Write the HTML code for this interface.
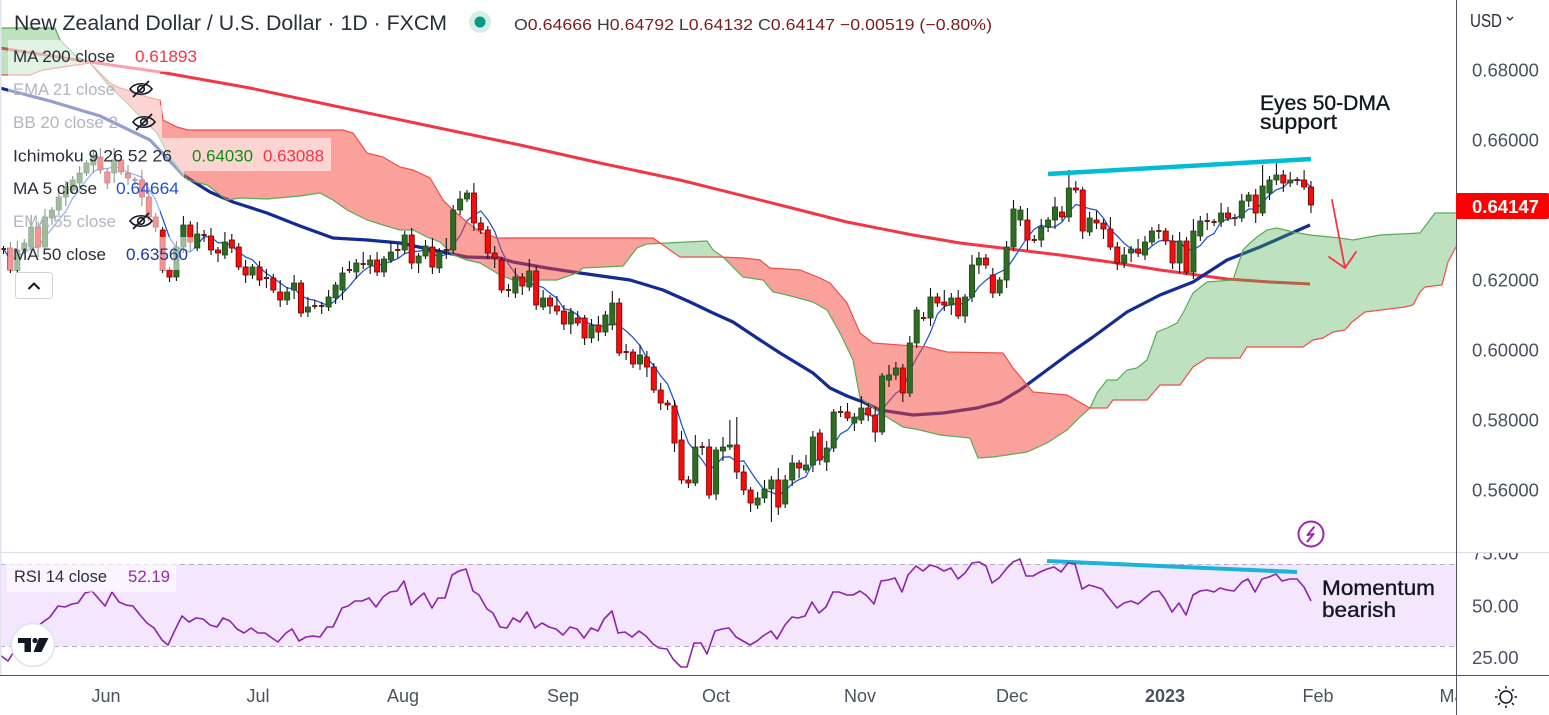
<!DOCTYPE html>
<html><head><meta charset="utf-8">
<style>
html,body{margin:0;padding:0;background:#fff;overflow:hidden;}
svg{display:block;}
text{font-family:"Liberation Sans",Arial,sans-serif;}
</style></head>
<body>
<svg id="s" xmlns="http://www.w3.org/2000/svg" width="1549" height="715" viewBox="0 0 1549 715">
<defs>
<clipPath id="cm"><rect x="0" y="0" width="1456" height="552"/></clipPath>
<clipPath id="cr"><rect x="0" y="553" width="1456" height="122"/></clipPath>
<clipPath id="below"><polygon id="belowP" points="0,0"/></clipPath>
<clipPath id="above"><polygon id="aboveP" points="0,0"/></clipPath>
<clipPath id="axr"><rect x="1457" y="553" width="92" height="122"/></clipPath>
<clipPath id="tax"><rect x="0" y="676" width="1456" height="40"/></clipPath>
</defs>
<rect width="1549" height="715" fill="#fff"/>

<!-- MAIN PANE -->
<g clip-path="url(#cm)">
  <polyline fill="none" stroke="#f23645" stroke-width="3" stroke-linejoin="round" points="0,48 45,55 90,62 160,72 250,88 330,105 420,124 520,145 600,163 680,180 780,205 847,222 913,235 960,243 1010,249 1060,255 1110,262 1160,270 1227,279 1270,282 1310,284"/>
  <polyline fill="none" stroke="#142a94" stroke-width="3.2" stroke-linejoin="round" points="0,88 50,101 100,116 150,140 183,175 210,192 233,202 267,213 300,226 333,238 367,240 400,243 433,250 467,257 500,258 513,262 547,268 580,273 630,280 663,290 690,302 713,313 733,322 757,338 780,353 813,373 830,388 847,396 863,402 880,410 913,415 943,413 977,408 1000,402 1020,390 1047,370 1070,353 1093,337 1127,312 1160,295 1193,282 1227,260 1260,247 1285,236 1310,225"/>
  <polyline id="ma5" fill="none" stroke="#2457d6" stroke-width="1.3" stroke-linejoin="round" points="0,0"/>
  <polygon id="cloudR" clip-path="url(#below)" fill="rgba(244,67,54,0.5)" points="0,0"/>
  <polygon id="cloudG" clip-path="url(#above)" fill="rgba(76,175,80,0.36)" points="0,0"/>
  <polyline id="spanA" fill="none" stroke="#5aaa5a" stroke-width="1.2" points="0,0"/>
  <polyline id="spanB" fill="none" stroke="#f04e4e" stroke-width="1.2" points="0,0"/>
  <g id="candles"></g>
  <line x1="1048" y1="174" x2="1311" y2="159" stroke="#00bcd4" stroke-width="4.5"/>
  <g stroke="#f23645" stroke-width="1.8" fill="none" stroke-linecap="round">
    <line x1="1332" y1="200" x2="1345" y2="268"/>
    <polyline points="1329,257 1345,268 1356,252"/>
  </g>
  <circle cx="1311" cy="534" r="12.5" fill="#fff" stroke="#9c27b0" stroke-width="2"/>
  <path d="M1314.5,526.5 L1307.5,535 L1313.5,534 L1307,542" fill="none" stroke="#9c27b0" stroke-width="2" stroke-linejoin="round"/>
</g>

<!-- legend rows -->
<g fill="rgba(255,255,255,0.55)">
  <rect x="8" y="40" width="196" height="32"/>
  <rect x="8" y="72" width="152" height="33"/>
  <rect x="8" y="105" width="154" height="33"/>
  <rect x="8" y="138" width="323" height="33"/>
  <rect x="8" y="171" width="176" height="33"/>
  <rect x="8" y="204" width="152" height="33"/>
  <rect x="8" y="237" width="186" height="33"/>
</g>
<text x="14" y="30" font-size="21" fill="#2a2e39" textLength="433" lengthAdjust="spacingAndGlyphs">New Zealand Dollar / U.S. Dollar · 1D · FXCM</text>
<circle cx="480" cy="22" r="11" fill="#d4eee8"/>
<circle cx="480" cy="22" r="5.5" fill="#089981"/>
<text x="514" y="30" font-size="16" fill="#3a3d47" textLength="478" lengthAdjust="spacingAndGlyphs">O<tspan fill="#7b1c1c">0.64666</tspan> H<tspan fill="#7b1c1c">0.64792</tspan> L<tspan fill="#7b1c1c">0.64132</tspan> C<tspan fill="#7b1c1c">0.64147 −0.00519 (−0.80%)</tspan></text>

<g font-size="17">
  <text x="13" y="62" fill="#2a2e39" textLength="102" lengthAdjust="spacingAndGlyphs">MA 200 close</text>
  <text x="135" y="62" fill="#f23645" textLength="62" lengthAdjust="spacingAndGlyphs">0.61893</text>
  <text x="13" y="95" fill="#b2b5be" textLength="102" lengthAdjust="spacingAndGlyphs">EMA 21 close</text>
  <text x="13" y="128" fill="#b2b5be" textLength="105" lengthAdjust="spacingAndGlyphs">BB 20 close 2</text>
  <text x="13" y="161.5" fill="#2a2e39" textLength="159" lengthAdjust="spacingAndGlyphs">Ichimoku 9 26 52 26</text>
  <text x="192" y="161.5" fill="#128a12" textLength="61" lengthAdjust="spacingAndGlyphs">0.64030</text>
  <text x="263" y="161.5" fill="#f23645" textLength="61" lengthAdjust="spacingAndGlyphs">0.63088</text>
  <text x="13" y="194" fill="#2a2e39" textLength="84" lengthAdjust="spacingAndGlyphs">MA 5 close</text>
  <text x="116" y="194" fill="#2150d0" textLength="63" lengthAdjust="spacingAndGlyphs">0.64664</text>
  <text x="13" y="227" fill="#b2b5be" textLength="103" lengthAdjust="spacingAndGlyphs">EMA 55 close</text>
  <text x="13" y="260" fill="#2a2e39" textLength="93" lengthAdjust="spacingAndGlyphs">MA 50 close</text>
  <text x="126" y="260" fill="#1b3a9a" textLength="62" lengthAdjust="spacingAndGlyphs">0.63560</text>
</g>
<g stroke="#131722" fill="none" stroke-width="1.6">
  <g transform="translate(141,89)"><path d="M-11,0 C-6,-7 6,-7 11,0 C6,7 -6,7 -11,0Z"/><circle r="3.3"/><line x1="-8" y1="8" x2="8" y2="-8"/></g>
  <g transform="translate(144,122)"><path d="M-11,0 C-6,-7 6,-7 11,0 C6,7 -6,7 -11,0Z"/><circle r="3.3"/><line x1="-8" y1="8" x2="8" y2="-8"/></g>
  <g transform="translate(141,221)"><path d="M-11,0 C-6,-7 6,-7 11,0 C6,7 -6,7 -11,0Z"/><circle r="3.3"/><line x1="-8" y1="8" x2="8" y2="-8"/></g>
</g>
<rect x="15.5" y="272.5" width="37" height="26" rx="3" fill="#fff" stroke="#d1d4dc"/>
<polyline points="28.5,289 34,283.5 39.5,289" fill="none" stroke="#131722" stroke-width="2"/>

<!-- annotations -->
<g fill="#131722" stroke="#131722" stroke-width="0.35">
<text x="1260" y="110" font-size="21" textLength="130" lengthAdjust="spacingAndGlyphs">Eyes 50-DMA</text>
<text x="1260" y="129" font-size="21" textLength="77" lengthAdjust="spacingAndGlyphs">support</text>
</g>

<!-- RSI PANE -->
<g clip-path="url(#cr)">
  <rect x="0" y="564" width="1456" height="82" fill="#f3e6fd"/>
  <line x1="0" y1="564.5" x2="1456" y2="564.5" stroke="#b9abc8" stroke-width="1" stroke-dasharray="5,4"/>
  <line x1="0" y1="646.5" x2="1456" y2="646.5" stroke="#b9abc8" stroke-width="1" stroke-dasharray="5,4"/>
  <line x1="1047" y1="561" x2="1297" y2="572" stroke="#1cb3d8" stroke-width="4"/>
  <polyline fill="none" stroke="#8e24aa" stroke-width="1.6" stroke-linejoin="round" points="0,655 8,661 13,653 20,645 28,635 36,628 43,622 50,617 58,606 65,607 72,604 78,603 85,593 92,591 98,598 105,606 112,592 119,602 126,605 133,606 140,615 147,623 154,628 162,640 168,645 175,630 182,616 189,622 196,618 203,619 210,625 217,627 223,618 230,621 237,629 244,633 251,628 258,633 265,633 272,638 278,642 286,633 292,629 299,641 306,637 313,636 320,637 327,627 333,627 342,608 348,606 355,601 362,601 369,598 376,607 383,597 390,592 397,591 404,581 411,605 417,599 424,593 432,608 438,598 445,598 452,575 459,571 466,569 473,591 479,595 487,609 493,613 500,627 507,628 513,618 520,622 527,612 535,628 542,623 549,627 556,629 563,635 570,627 577,629 584,638 591,628 598,631 604,619 612,611 618,633 625,632 632,637 639,631 646,636 653,644 659,648 667,649 673,659 681,667 687,667 694,643 701,643 707,654 715,631 722,629 729,628 736,637 743,641 750,645 757,641 763,636 771,631 777,639 785,625 792,617 798,618 805,616 812,602 819,613 826,607 833,592 839,592 847,595 853,595 860,591 867,596 874,604 881,581 888,580 895,578 902,592 908,575 916,566 923,571 930,565 937,567 944,571 951,568 958,579 965,573 972,563 979,562 986,566 992,583 999,578 1007,568 1013,562 1020,559 1026,576 1033,576 1040,572 1047,569 1054,567 1061,572 1068,563 1075,564 1082,589 1089,585 1096,587 1102,589 1109,598 1117,608 1124,603 1131,601 1138,604 1145,598 1152,592 1159,591 1165,599 1172,612 1179,603 1186,615 1193,595 1200,591 1207,590 1214,592 1220,588 1227,590 1234,591 1242,582 1248,579 1255,592 1262,579 1269,577 1276,574 1282,581 1290,579 1297,579 1304,587 1311,601"/>
  <rect x="7" y="564" width="169" height="28" fill="rgba(255,255,255,0.6)"/>
  <circle cx="33" cy="645" r="21.5" fill="#fff" stroke="#e0e3eb" stroke-width="1.5"/>
  <g fill="#131722">
    <rect x="18" y="638" width="13" height="5"/>
    <rect x="24.5" y="638" width="6.5" height="14"/>
    <circle cx="35" cy="640.5" r="2.6"/>
    <polygon points="39,638 48.5,638 41.5,652 33.5,652"/>
  </g>
</g>
<text x="14" y="582" font-size="17" fill="#2a2e39" textLength="93" lengthAdjust="spacingAndGlyphs">RSI 14 close</text>
<text x="128" y="582" font-size="17" fill="#9c27b0" textLength="42" lengthAdjust="spacingAndGlyphs">52.19</text>
<g fill="#131722" stroke="#131722" stroke-width="0.35">
<text x="1322" y="595" font-size="21" textLength="113" lengthAdjust="spacingAndGlyphs">Momentum</text>
<text x="1322" y="617" font-size="21" textLength="74" lengthAdjust="spacingAndGlyphs">bearish</text>
</g>

<!-- frame lines -->
<line x1="0.75" y1="0" x2="0.75" y2="675" stroke="#e3e5ee" stroke-width="1.5"/>
<line x1="0" y1="552.5" x2="1549" y2="552.5" stroke="#dcdce8" stroke-width="1"/>
<line x1="0" y1="675.5" x2="1549" y2="675.5" stroke="#50535e" stroke-width="1"/>
<line x1="1456.5" y1="0" x2="1456.5" y2="715" stroke="#50535e" stroke-width="1"/>

<!-- right axis -->
<text x="1470" y="27" font-size="18" fill="#2a2e39" textLength="32" lengthAdjust="spacingAndGlyphs">USD</text>
<polyline points="1507,17 1510,20 1513,17" fill="none" stroke="#2a2e39" stroke-width="1.3"/>
<g font-size="18" fill="#4c525e">
  <text x="1472" y="76.7" textLength="67" lengthAdjust="spacingAndGlyphs">0.68000</text>
  <text x="1472" y="146.7" textLength="67" lengthAdjust="spacingAndGlyphs">0.66000</text>
  <text x="1472" y="286.7" textLength="67" lengthAdjust="spacingAndGlyphs">0.62000</text>
  <text x="1472" y="356.7" textLength="67" lengthAdjust="spacingAndGlyphs">0.60000</text>
  <text x="1472" y="426.7" textLength="67" lengthAdjust="spacingAndGlyphs">0.58000</text>
  <text x="1472" y="496.7" textLength="67" lengthAdjust="spacingAndGlyphs">0.56000</text>
  <text x="1472" y="559.7" textLength="46.6" lengthAdjust="spacingAndGlyphs" clip-path="url(#axr)">75.00</text>
  <text x="1472" y="612.4" textLength="46.6" lengthAdjust="spacingAndGlyphs">50.00</text>
  <text x="1472" y="664" textLength="46.6" lengthAdjust="spacingAndGlyphs">25.00</text>
</g>
<rect x="1456" y="193" width="93" height="26" rx="2" fill="#ff0000"/>
<text x="1472" y="213" font-size="18" font-weight="bold" fill="#fff" textLength="67" lengthAdjust="spacingAndGlyphs">0.64147</text>

<!-- time axis -->
<g font-size="18" fill="#4c525e" text-anchor="middle">
  <text x="106" y="702">Jun</text>
  <text x="258" y="702">Jul</text>
  <text x="403" y="702">Aug</text>
  <text x="563" y="702">Sep</text>
  <text x="716" y="702">Oct</text>
  <text x="860" y="702">Nov</text>
  <text x="1012" y="702">Dec</text>
  <text x="1165" y="702" font-weight="bold">2023</text>
  <text x="1318" y="702">Feb</text>
  <text x="1455" y="702" clip-path="url(#tax)">Mar</text>
</g>
<g transform="translate(1506,697)" stroke="#131722" stroke-width="1.5" fill="none">
  <circle r="6"/>
  <line x1="0" y1="-8.5" x2="0" y2="-11"/><line x1="0" y1="8.5" x2="0" y2="11"/>
  <line x1="-8.5" y1="0" x2="-11" y2="0"/><line x1="8.5" y1="0" x2="11" y2="0"/>
  <line x1="6" y1="6" x2="7.8" y2="7.8"/><line x1="-6" y1="6" x2="-7.8" y2="7.8"/>
  <line x1="6" y1="-6" x2="7.8" y2="-7.8"/><line x1="-6" y1="-6" x2="-7.8" y2="-7.8"/>
</g>
</svg>
<script>
(function(){
function pts(a){return a.map(function(p){return p[0]+','+p[1];}).join(' ');}
var A=[[0,28],[55,28],[60,40],[77,57],[90,63],[110,87],[127,103],[143,120],[157,133],[167,153],[180,170],[188,180],[207,185],[227,200],[240,198],[267,199],[300,196],[320,193],[333,200],[347,210],[367,220],[383,225],[400,230],[413,230],[427,237],[440,242],[453,255],[467,260],[480,263],[500,275],[513,280],[557,280],[577,273],[583,268],[623,266],[630,257],[637,248],[647,244],[667,243],[687,242],[707,241],[713,250],[723,257],[743,277],[763,280],[773,292],[787,295],[813,302],[827,310],[840,333],[853,360],[860,398],[870,405],[880,413],[903,427],[920,430],[940,435],[970,438],[978,458],[993,457],[1007,455],[1027,452],[1047,443],[1067,430],[1080,417],[1090,408],[1097,393],[1107,380],[1117,380],[1127,370],[1137,368],[1147,360],[1157,332],[1167,328],[1177,323],[1183,313],[1193,293],[1207,282],[1233,280],[1243,250],[1250,243],[1257,237],[1267,230],[1277,228],[1293,232],[1310,235],[1340,238],[1353,240],[1380,235],[1420,233],[1435,213],[1456,213]];
var B=[[0,75],[30,75],[43,70],[90,63],[110,83],[120,88],[133,92],[147,97],[160,100],[163,120],[177,127],[188,130],[343,130],[353,133],[367,153],[383,157],[400,167],[413,170],[430,178],[443,200],[453,210],[467,222],[480,232],[497,238],[653,238],[680,257],[720,257],[743,258],[760,260],[770,268],[800,270],[820,278],[830,283],[847,303],[860,333],[873,343],[927,347],[947,352],[1003,353],[1013,368],[1033,392],[1067,395],[1090,408],[1107,408],[1113,400],[1147,400],[1160,385],[1180,385],[1193,367],[1207,358],[1240,358],[1247,347],[1303,347],[1313,340],[1323,338],[1333,332],[1345,330],[1352,322],[1365,312],[1405,307],[1413,305],[1420,292],[1425,287],[1442,285],[1448,262],[1456,247]];
document.getElementById('spanA').setAttribute('points',pts(A));
document.getElementById('spanB').setAttribute('points',pts(B));
var poly=A.concat(B.slice().reverse());
document.getElementById('cloudR').setAttribute('points',pts(poly));
document.getElementById('cloudG').setAttribute('points',pts(poly));
document.getElementById('belowP').setAttribute('points',pts(B.concat([[1456,720],[0,720]])));
document.getElementById('aboveP').setAttribute('points',pts(B.concat([[1456,-10],[0,-10]])));

var S="d249 r248,270 g250,270 g243,250 g227,247 r227,247 g217,247 g210,218 g197,210 g187,197 g180,190 g173,183 g163,173 g155,165 r157,170 r172,183 g160,173 r160,172 r173,178 d180 r180,197 r197,217 r217,227 r230,270 r270,277 g247,277 g225,247 r225,242 g234,248 d235 r236,250 r250,253 g242,255 r240,248 r247,267 r267,275 g267,275 r267,280 d278 r278,290 r292,300 g292,300 g283,290 r283,313 g307,312 d306 d306 g297,307 g285,298 g273,290 d270 g263,272 d264 g260,265 r260,272 g259,272 g252,260 d250 g235,250 r235,263 g256,263 g246,256 r247,267 g252,268 d250 g210,250 g199,210 g193,199 r193,223 r223,230 r230,253 r253,258 r260,290 d290 g277,293 r277,286 g271,287 r271,305 g298,307 r298,306 r306,311 r311,324 g312,324 r318,323 r318,338 g325,338 r325,332 g315,332 g303,325 r303,353 d352 r352,364 g355,364 r357,367 r367,390 r390,403 r403,405 r406,443 r440,480 r480,483 g447,483 d447 r447,495 g450,494 g447,451 g445,447 r445,472 r472,490 r490,503 g498,505 g489,498 g480,489 r480,507 g480,504 g463,480 r463,468 g465,470 g437,465 r433,460 g448,462 g412,448 d412 r412,418 g417,423 g408,420 r408,415 r415,432 g376,432 g375,380 g368,375 r368,393 g343,393 g310,343 d318 g297,318 r297,303 r302,305 g298,305 r298,316 g297,316 g265,297 g258,265 r258,265 r275,293 g280,293 g247,280 g209,247 g210,220 r220,240 d240 g227,240 g220,227 g207,220 r212,217 g188,217 r188,190 r190,231 g218,232 r220,223 r223,229 r229,247 r247,263 g255,263 g249,253 r249,253 g242,255 g231,242 d231 r231,241 r241,263 g241,263 r241,272 g231,272 g221,236 d221 d222 g213,222 r213,218 d218 g201,218 g195,201 r195,213 g186,213 g180,193 g175,180 r175,183 g180,183 d180 r180,187 r187,205";
var D=S.split(' ').map(function(t){var c=t[0];var v=t.slice(1).split(',').map(Number);return c==='d'?[c,v[0],v[0]]:[c,v[0],v[1]];});
var N=D.length, x0=3.5, sp=(1311-3.5)/(N-1);
var R1=[3,6,9,4,12,5,8,3,10,6,4,7], R2=[5,3,8,4,6,10,3,7,5,9,4];
var ov={105:[420,0],106:[417,0],111:[0,522],154:[170,0],182:[165,0],23:[227,0],24:[0,282]};
var w='',b='',closes=[],ma=[];
D.forEach(function(d,i){
  var x=x0+sp*i, t=d[1], bo=d[2];
  var hi=t-R1[i%12], lo=bo+R2[i%11];
  if(ov[i]){ if(ov[i][0]) hi=ov[i][0]; if(ov[i][1]) lo=ov[i][1]; }
  w+='<line x1="'+x.toFixed(1)+'" y1="'+hi+'" x2="'+x.toFixed(1)+'" y2="'+lo+'"/>';
  var bw=5.2, bx=(x-bw/2).toFixed(1);
  if(d[0]==='d'){
    b+='<rect x="'+bx+'" y="'+(t-1)+'" width="'+bw+'" height="2" fill="#6b1a1a"/>';
    closes.push(t);
  } else {
    var h=Math.max(bo-t,1.5);
    if(d[0]==='g') b+='<rect x="'+bx+'" y="'+t+'" width="'+bw+'" height="'+h+'" fill="#2e6b23" stroke="#1e4a17" stroke-width="0.8"/>';
    else b+='<rect x="'+bx+'" y="'+t+'" width="'+bw+'" height="'+h+'" fill="#f50d0d" stroke="#7a0000" stroke-width="0.8"/>';
    closes.push(d[0]==='g'?t:bo);
  }
  var s=0,n=0; for(var k=Math.max(0,i-4);k<=i;k++){s+=closes[k];n++;}
  ma.push([x.toFixed(1),(s/n).toFixed(1)]);
});
document.getElementById('candles').innerHTML='<g stroke="#111" stroke-width="1.1">'+w+'</g>'+b;
document.getElementById('ma5').setAttribute('points',pts(ma));
})();
</script>
</body></html>
